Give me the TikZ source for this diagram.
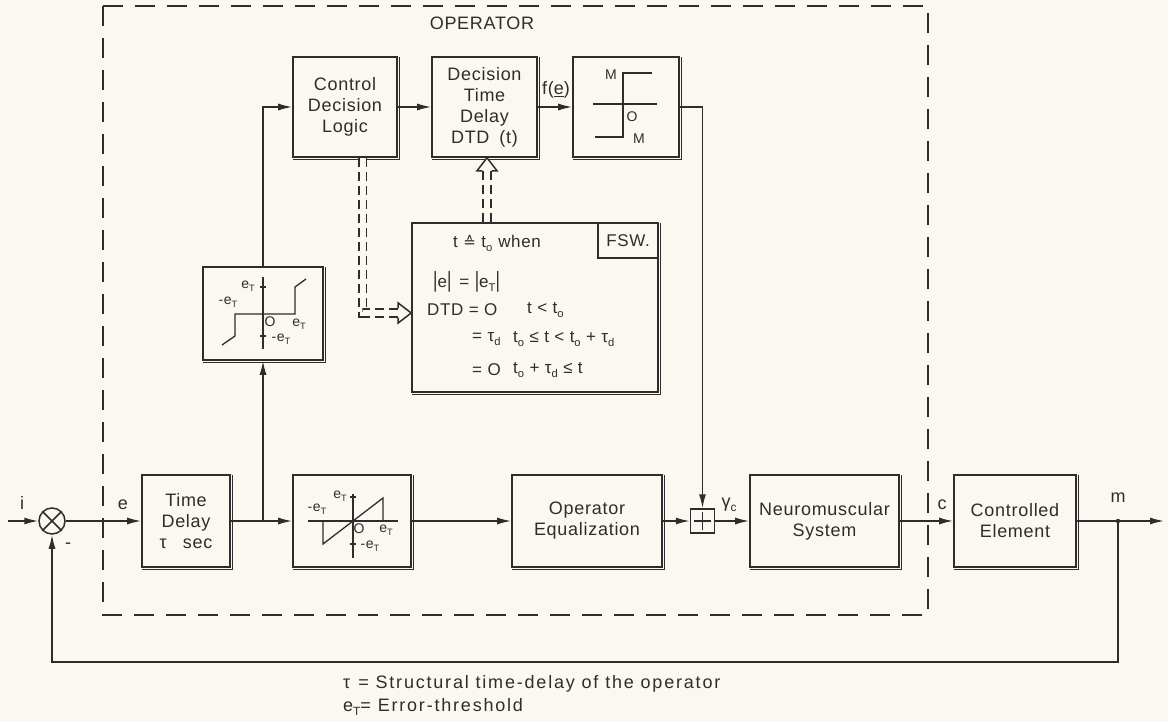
\documentclass[tikz,border=0pt]{standalone}
\usepackage{fontspec}
\setmainfont{Liberation Sans}[LetterSpace=4]
\newfontfamily\dejavu{DejaVu Sans}
\newfontfamily\legfont{Liberation Sans}[LetterSpace=10]
\usepackage{graphicx}
\usetikzlibrary{arrows.meta,calc}
\definecolor{ink}{RGB}{45,45,45}
\definecolor{paper}{RGB}{250,248,240}
\newcommand\sbs[1]{\raisebox{-0.45ex}{\scalebox{0.66}{#1}}}
\newcommand\bigf{\fontsize{18}{21}\selectfont}
\newcommand\midf{\fontsize{17}{19}\selectfont}
\newcommand\lbl{\fontsize{14}{16}\selectfont}
\newcommand\shd[1]{\draw[ink,line width=1.1pt] ([shift={(2pt,-1pt)}]#1.north east) -- ([shift={(2pt,-2pt)}]#1.south east) -- ([shift={(1pt,-2pt)}]#1.south west);}
\begin{document}
\begin{tikzpicture}[x=1pt,y=-1pt,color=ink,
  blk/.style={draw, line width=1.6pt, inner sep=0pt, align=center, font=\bigf},
  arr/.style={-{Latex[length=14pt,width=7pt]}, line width=1.5pt},
  ln/.style={line width=1.5pt},
  gl/.style={line width=1.3pt},
  lab/.style={font=\lbl, inner sep=0pt},
  tx/.style={font=\bigf, inner sep=0pt},
  fs/.style={font=\midf, inner sep=0pt, anchor=west},
  opbox/.style={line width=1.6pt, dash pattern=on 20pt off 12pt},
  dd/.style={line width=1.6pt, double=paper, double distance=6pt, dash pattern=on 9pt off 5pt},
  hd/.style={line width=1.5pt, line join=miter}]
\useasboundingbox (0,0) rectangle (1168,722);
\fill[paper] (0,0) rectangle (1168,722);

% operator dashed frame
\draw[opbox] (103,6) rectangle (928,615);
\node[tx] (oplab) at (482,23) {OPERATOR};

% forward path blocks
\node[circle, draw, line width=1.5pt, minimum size=26pt, inner sep=0pt] (sum) at (52,521) {};
\draw[ln] (sum.north west) -- (sum.south east) (sum.north east) -- (sum.south west);
\node[blk, minimum width=88pt, minimum height=92pt] (td) at (186,521) {Time\\Delay\\τ\hspace{16pt}sec};
\node[blk, minimum width=118pt, minimum height=92pt] (dz) at (352,521) {};
\node[blk, minimum width=150pt, minimum height=92pt] (oe) at (587,521) {Operator\\Equalization};
\node[draw, line width=1.5pt, minimum size=24pt, inner sep=0pt] (pl) at (702.5,521) {};
\draw[gl] ([xshift=4pt]pl.west) -- ([xshift=-4pt]pl.east) ([yshift=-4pt]pl.north) -- ([yshift=4pt]pl.south);
\node[blk, minimum width=149pt, minimum height=92pt] (nm) at (824.5,521) {Neuromuscular\\System};
\node[blk, minimum width=122pt, minimum height=92pt] (ce) at (1015,521) {Controlled\\Element};

% upper blocks
\node[blk, minimum width=120pt, minimum height=93pt] (th) at (263,313.5) {};
\node[blk, minimum width=104pt, minimum height=100pt] (cdl) at (345,107) {Control\\Decision\\Logic};
\node[blk, minimum width=105pt, minimum height=100pt] (dtd) at (484.5,107) {Decision\\Time\\Delay\\DTD\hspace{10pt}(t)};
\node[blk, minimum width=106pt, minimum height=100pt] (rl) at (626,107) {};
\node[blk, minimum width=246pt, minimum height=169pt] (fsw) at (535,307.5) {};
\node[draw, line width=1.4pt, minimum width=60pt, minimum height=35pt, inner sep=0pt, anchor=north east, font=\midf] (tag) at (fsw.north east) {FSW.};

\foreach \b in {td,dz,oe,nm,ce,th,cdl,dtd,rl,fsw} {\shd{\b}}

% dead-zone / saturation graph (dz)
\draw[gl] (308,521) -- (398,521) (353,494) -- (353,558);
\draw[gl] (350,497) -- (356,497) (350,544) -- (356,544);
\draw[gl, line join=miter] (323,521) -- (323,544) -- (383,498) -- (383,521);
\node[lab] (dz1) at (340,496) {e\sbs{T}};
\node[lab] (dz2) at (317,509) {-e\sbs{T}};
\node[lab] (dz3) at (359,529) {O};
\node[lab] (dz4) at (386,530) {e\sbs{T}};
\node[lab] (dz5) at (370,546) {-e\sbs{T}};

% threshold graph (th)
\draw[gl] (263,277) -- (263,349);
\draw[gl] (260,287) -- (266,287) (260,336) -- (266,336);
\draw[gl, line join=miter] (222,345) -- (235,336) -- (235,314) -- (295,314) -- (295,287) -- (306,279);
\node[lab] (th1) at (248,286) {e\sbs{T}};
\node[lab] (th2) at (228,302) {-e\sbs{T}};
\node[lab] (th3) at (270,322) {O};
\node[lab] (th4) at (299,324) {e\sbs{T}};
\node[lab] (th5) at (281,339) {-e\sbs{T}};

% relay graph (rl)
\draw[gl] (593,104) -- (657,104);
\draw[gl, line join=miter] (595,137) -- (623,137) -- (623,73) -- (652,73);
\node[lab] (rl1) at (611,75) {M};
\node[lab] (rl2) at (632,117) {O};
\node[lab] (rl3) at (639,139) {M};

% FSW text
\node[fs] (f1) at (453,243) {t {\dejavu\fontsize{15}{15}\selectfont ≙} t\sbs{o}\hspace{6pt}when};
\node[fs] (f2) at (433,282) {\scalebox{1}[1.3]{|}e\scalebox{1}[1.3]{|}\hspace{8pt}= \scalebox{1}[1.3]{|}e\sbs{T}\scalebox{1}[1.3]{|}};
\node[fs] (f3) at (427,310) {DTD = O};
\node[fs] (f3b) at (527,310) {t < t\sbs{o}};
\node[fs] (f4) at (472,339) {= τ\sbs{d}};
\node[fs] (f4b) at (513,339) {t\sbs{o} ≤ t < t\sbs{o} + τ\sbs{d}};
\node[fs] (f5) at (472,370) {= O};
\node[fs] (f5b) at (513,370) {t\sbs{o} + τ\sbs{d} ≤ t};

% coordinates
\coordinate (in) at (8,521);
\coordinate (j1) at (263,521);
\coordinate (mj) at (1118,521);
\coordinate (out) at (1164,521);

% connectors
\draw[arr] (in) -- (sum.west);
\draw[arr] (sum.east) -- (td.west);
\draw[ln] (td.east) -- (j1);
\draw[arr] (j1) -- (dz.west);
\draw[arr] (j1) -- (th.south);
\draw[arr] (th.north) |- (cdl.west);
\draw[arr] (cdl.east) -- (dtd.west);
\draw[arr] (dtd.east) -- (rl.west);
\draw[arr] (rl.east) -| (pl.north);
\draw[arr] (dz.east) -- (oe.west);
\draw[arr] (oe.east) -- (pl.west);
\draw[arr] (pl.east) -- (nm.west);
\draw[arr] (nm.east) -- (ce.west);
\draw[arr] (ce.east) -- (out);
\draw[arr] (mj) -- ++(0,141) -| (sum.south);
\fill (mj) circle (2.2pt);

% signal labels
\node[tx] (li) at (22,503) {i};
\node[tx] (lminus) at (68,546) {-};
\node[tx] (le) at (123,505) {e};
\node[tx] (lf) at (556,90) {f(\underline{e})};
\node[tx] (lg) at (729,505) {γ\sbs{c}};
\node[tx] (lc) at (942,505) {c};
\node[tx] (lm) at (1118,498) {m};

% double dashed information paths
\coordinate (h1) at ($(dtd.south)+(2.5,0)$);
\draw[dd] (h1 |- fsw.north) -- ($(h1)+(0,13)$);
\draw[hd, fill=paper] ($(h1)+(-4.6,13)$) -- ($(h1)+(-10,13)$) -- (h1) -- ($(h1)+(10,13)$) -- ($(h1)+(4.6,13)$);
\coordinate (s2) at ($(cdl.south)+(17.5,0)$);
\coordinate (h2) at ($(fsw.west)+(0,5.5)$);
\draw[dd] (s2) |- ($(h2)+(-13,0)$);
\draw[hd, fill=paper] ($(h2)+(-13,-4.6)$) -- ($(h2)+(-13,-10)$) -- (h2) -- ($(h2)+(-13,10)$) -- ($(h2)+(-13,4.6)$);

% legend
\node[inner sep=0pt, anchor=west, font={\legfont\fontsize{18}{21}\selectfont}] (n1) at (343,684) {τ\hspace{8pt}= Structural time-delay of the operator};
\node[inner sep=0pt, anchor=west, font={\legfont\fontsize{18}{21}\selectfont}] (n2) at (343,707) {e\sbs{T}= Error-threshold};
\end{tikzpicture}
\end{document}
